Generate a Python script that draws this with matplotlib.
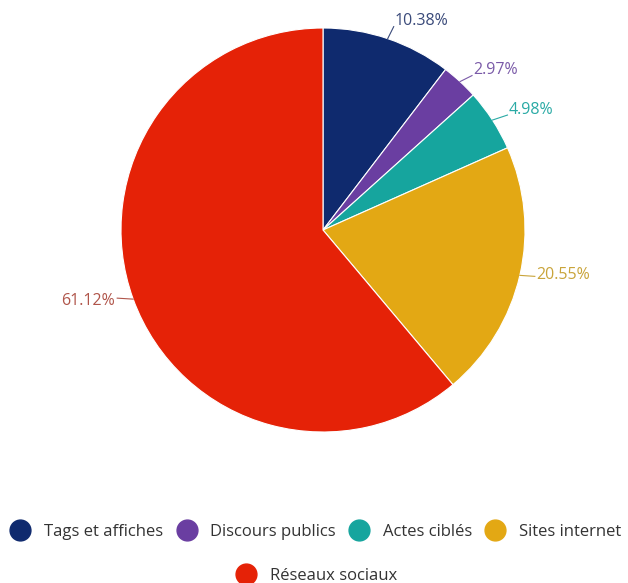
import numpy as np
import matplotlib
matplotlib.use("Agg")
from matplotlib import pyplot as plt
from matplotlib.lines import Line2D

plt.rcParams['font.family'] = ['Open Sans', 'DejaVu Sans']

categories = ["Tags et affiches", "Discours publics", "Actes ciblés", "Sites internet", "Réseaux sociaux"]
shares = [10.38, 2.97, 4.98, 20.55, 61.12]
colors = ["#0f2a6e", "#6a3ea1", "#16a59e", "#e3a814", "#e52207"]
label_colors = ["#3a4a7a", "#7a5aa8", "#2aaaa5", "#c9a43a", "#b0554a"]

W, H = 628, 583
fig = plt.figure(figsize=(W / 100, H / 100), dpi=100)

# pie centre and radius in pixels
cx, cy, r = 323, 230, 202
ax = fig.add_axes([(cx - r) / W, (H - cy - r) / H, 2 * r / W, 2 * r / H])

wedges, _ = ax.pie(shares, colors=colors, startangle=90, counterclock=False, radius=1,
                   wedgeprops=dict(edgecolor='white', linewidth=0.8))
ax.set_xlim(-1, 1)
ax.set_ylim(-1, 1)
ax.set_aspect('equal')
ax.axis('off')

# leader line lengths (px, y downwards) and text offset from the line end
leaders = [(6, -12), (12, -6), (15, -5), (15, 1), (-16, -1)]
text_dy = [-6, -6, -5, -1, 3]
cum = np.cumsum([0] + shares[:-1])
for i, s in enumerate(shares):
    ang = np.deg2rad(90 - (cum[i] + s / 2) * 3.6)
    x0, y0 = np.cos(ang), np.sin(ang)
    dx, dy = leaders[i]
    x1, y1 = x0 + dx / r, y0 - dy / r
    ha = 'left' if x0 > 0 else 'right'
    ax.plot([x0, x1], [y0, y1], color=label_colors[i], lw=0.8, clip_on=False)
    ax.text(x1 + (1 if ha == 'left' else -2) / r, y1 - text_dy[i] / r, f"{s:.2f}%",
            ha=ha, va='center', fontsize=11.5, color=label_colors[i], clip_on=False)

def handle(c):
    return Line2D([], [], marker='o', linestyle='none', markersize=15,
                  markerfacecolor=c, markeredgecolor=c)

legend_kw = dict(loc='center', frameon=False, fontsize=12, handlelength=1.2,
                 handletextpad=0.84, columnspacing=0.78, labelcolor='#333333',
                 borderpad=0, borderaxespad=0)
fig.legend([handle(c) for c in colors[:4]], categories[:4], ncol=4,
           bbox_to_anchor=(316 / W, 1 - 532 / H), **legend_kw)
fig.legend([handle(colors[4])], categories[4:],
           bbox_to_anchor=(317 / W, 1 - 576 / H), **legend_kw)

fig.savefig("out.png", dpi=100, facecolor='white')
